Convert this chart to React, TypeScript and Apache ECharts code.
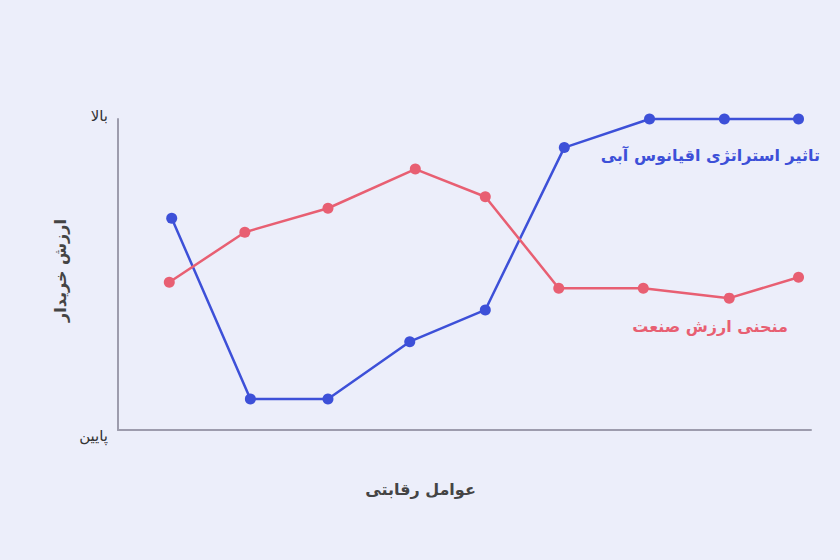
import React, { useEffect, useRef } from "react";
import * as echarts from "echarts";

const blueX = [7.75, 19.1, 30.3, 42.1, 53.0, 64.4, 76.7, 87.5, 98.2];
const blueY = [68.1, 10.0, 10.0, 28.4, 38.6, 90.8, 100, 100, 100];
const redX = [7.4, 18.3, 30.3, 42.9, 53.0, 63.6, 75.8, 88.2, 98.2];
const redY = [47.5, 63.6, 71.3, 83.9, 75.0, 45.6, 45.6, 42.4, 49.1];
const yTickLabels: Record<number, string> = { 0: "پایین", 100: "بالا" };
const blueName = "تاثیر استراتژی اقیانوس آبی";
const redName = "منحنی ارزش صنعت";
const xName = "عوامل رقابتی";
const yName = "ارزش خریدار";

const FONT = "'DejaVu Sans', 'Noto Sans', sans-serif";

export default function App() {
  const ref = useRef<HTMLDivElement>(null);
  useEffect(() => {
    if (!ref.current) return;
    const chart = echarts.init(ref.current, undefined, { renderer: "svg" });
    const pair = (xs: number[], ys: number[]) => xs.map((x, i) => [x, ys[i]]);
    chart.setOption({
      animation: false,
      backgroundColor: "#eceefa",
      grid: { left: 118, right: 29, top: 119, bottom: 130 },
      xAxis: {
        type: "value",
        min: 0,
        max: 100,
        axisLine: { show: true, lineStyle: { color: "#9d9cad", width: 2 } },
        axisTick: { show: false },
        axisLabel: { show: false },
        splitLine: { show: false },
        name: xName,
        nameLocation: "middle",
        nameGap: 51,
        nameTextStyle: {
          fontFamily: FONT,
          fontSize: 16,
          color: "#444",
          fontWeight: "bold",
          padding: [0, 88, 0, 0],
        },
      },
      yAxis: {
        type: "value",
        min: 0,
        max: 100,
        interval: 100,
        axisLine: { show: true, lineStyle: { color: "#9d9cad", width: 2 } },
        axisTick: { show: false },
        splitLine: { show: false },
        axisLabel: {
          fontFamily: FONT,
          fontSize: 15,
          color: "#333",
          margin: 10,
          formatter: (v: number) => (v === 0 ? `{b|${yTickLabels[0]}}` : v === 100 ? `{t|${yTickLabels[100]}}` : ""),
          rich: {
            t: { fontFamily: FONT, fontSize: 15, color: "#333", padding: [0, 0, 6, 0] },
            b: { fontFamily: FONT, fontSize: 15, color: "#333", padding: [12, 0, 0, 0] },
          },
        },
        name: yName,
        nameLocation: "middle",
        nameGap: 48,
        nameRotate: 90,
        nameTextStyle: {
          fontFamily: FONT,
          fontSize: 16,
          color: "#444",
          fontWeight: "bold",
          padding: [0, 0, 0, 8],
        },
      },
      series: [
        {
          type: "line",
          name: blueName,
          data: pair(blueX, blueY),
          symbol: "circle",
          symbolSize: 11,
          clip: false,
          lineStyle: { color: "#3d50d8", width: 2.5 },
          itemStyle: { color: "#3d50d8" },
        },
        {
          type: "line",
          name: redName,
          data: pair(redX, redY),
          symbol: "circle",
          symbolSize: 11,
          clip: false,
          lineStyle: { color: "#e85f72", width: 2.5 },
          itemStyle: { color: "#e85f72" },
        },
      ],
      graphic: [
        {
          type: "text",
          right: 20,
          top: 147,
          style: {
            text: blueName,
            fill: "#3d50d8",
            font: `bold 16px ${FONT}`,
            textAlign: "right",
          },
        },
        {
          type: "text",
          right: 52,
          top: 318,
          style: {
            text: redName,
            fill: "#e85f72",
            font: `bold 16px ${FONT}`,
            textAlign: "right",
          },
        },
      ],
    });
    return () => chart.dispose();
  }, []);
  return <div ref={ref} style={{ width: 840, height: 560, position: "absolute", left: 0, top: 0 }} />;
}
